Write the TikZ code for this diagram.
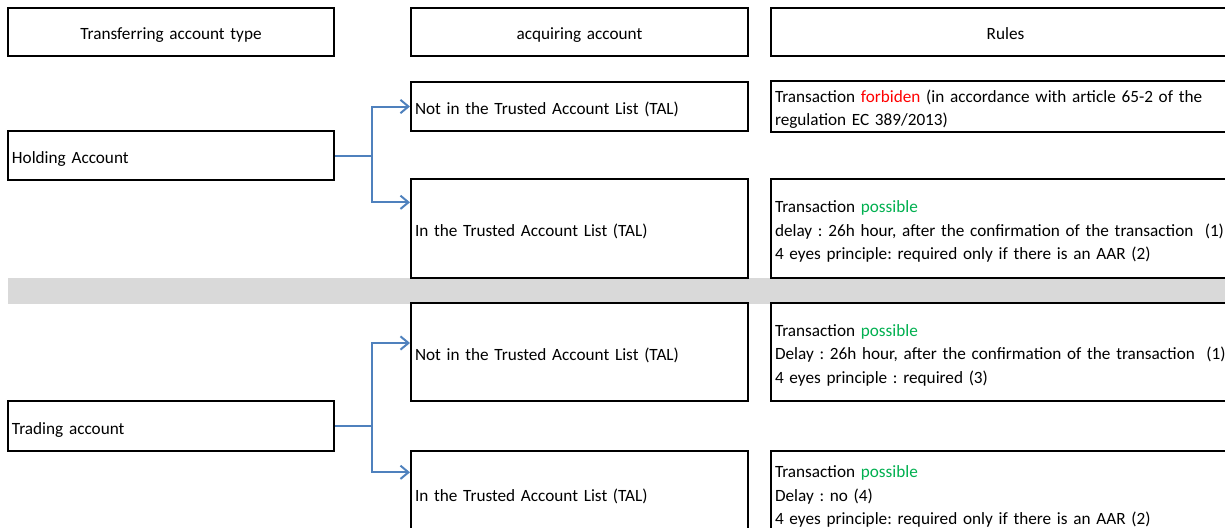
\documentclass[tikz,border=0pt]{standalone}
\usepackage{fontspec}
\setmainfont{Carlito}
\frenchspacing
\usepackage{tikz}
\usetikzlibrary{arrows.meta}
\usetikzlibrary{calc}
\definecolor{linkblue}{RGB}{79,129,189}
\definecolor{okgreen}{RGB}{0,176,80}
\definecolor{nored}{RGB}{255,0,0}
\definecolor{bandgray}{RGB}{217,217,217}

\begin{document}
\begin{tikzpicture}[x=0.75pt,y=-0.75pt]
		  \tikzset{
			cell/.style={draw,line width=1.5pt,fill=white,inner xsep=3pt,inner ysep=0pt,
			  align=left,text height=14pt,font=\fontsize{12.9}{17.6}\selectfont},
			leftcol/.style={cell,text width=238.5pt},
			midcol/.style={cell,text width=246.75pt},
			rulecol/.style={cell,text width=345.75pt},
			headcell/.style={align=center,text depth=3pt,minimum height=36pt},
			link/.style={linkblue,line width=1.5pt,-{Straight Barb[length=6pt,width=10pt,line width=1.5pt]}},
		  }
		  \useasboundingbox (0,0) rectangle (1225,528);
		  \clip (0,0) rectangle (1225,528);
		  %BAND
		  \fill[bandgray] (8,278) rectangle (1240,304);
		  %HEADERS
		  \node[leftcol,headcell] (htype) at (171,32) {Transferring account type};
		  \node[midcol,headcell] (hacq) at (579.5,32) {acquiring account};
		  \node[rulecol,headcell] (hrules) at (1005.5,32) {Rules};
		  %TRANSFERRING ACCOUNTS
		  \node[leftcol,minimum height=36.75pt] (hold) at (171,155.5) {Holding Account};
		  \node[leftcol,minimum height=37.5pt] (trade) at (171,426.25) {Trading account};
		  %ACQUIRING ACCOUNTS
		  \node[midcol,minimum height=37.1pt] (nota) at (579.5,106.25) {Not in the Trusted Account List (TAL)};
		  \node[midcol,minimum height=73.8pt] (ina) at (579.5,228.5) {In the Trusted Account List (TAL)};
		  \node[midcol,minimum height=73.5pt] (notb) at (579.5,352) {Not in the Trusted Account List (TAL)};
		  \node[midcol,minimum height=63pt] (inb) at (579.5,493.3) {In the Trusted Account List (TAL)};
		  %RULES
		  \node[rulecol,minimum height=38pt] (rulea) at (1005.5,106.3) {Transaction \textcolor{nored}{forbiden} (in accordance with article 65-2 of the\\regulation EC 389/2013)};
		  \node[rulecol,minimum height=74.25pt] (ruleb) at (1005.5,228.5) {Transaction \textcolor{okgreen}{possible}\\delay : 26h hour, after the confirmation of the transaction~~(1)\\4 eyes principle: required only if there is an AAR (2)};
		  \node[rulecol,minimum height=73.9pt] (rulec) at (1005.5,352) {Transaction \textcolor{okgreen}{possible}\\Delay : 26h hour, after the confirmation of the transaction~~(1)\\4 eyes principle : required (3)};
		  \node[rulecol,minimum height=63.75pt] (ruled) at (1005.5,493.5) {Transaction \textcolor{okgreen}{possible}\\Delay : no (4)\\4 eyes principle: required only if there is an AAR (2)};
		  %ARROWS HOLDING
		  \draw[link] (hold.east) -- ++(37,0) |- ($(nota.north west)+(0,26)$);
		  \draw[link] (hold.east) -- ++(37,0) |- ($(ina.north west)+(0,24)$);
		  %ARROWS TRADING
		  \draw[link] (trade.east) -- ++(37,0) |- ($(notb.north west)+(0,41)$);
		  \draw[link] (trade.east) -- ++(37,0) |- ($(inb.north west)+(0,22)$);
\end{tikzpicture}
\end{document}
